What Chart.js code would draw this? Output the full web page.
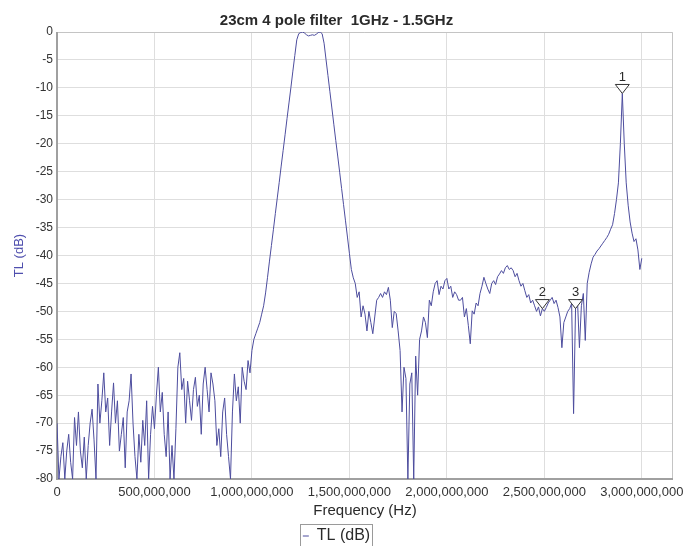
<!DOCTYPE html>
<html>
<head>
<meta charset="utf-8">
<script src="https://cdn.jsdelivr.net/npm/chart.js@4.4.0/dist/chart.umd.min.js"></script>
<style>
  html, body { margin: 0; padding: 0; background: #fff; }
  #wrap { width: 692px; height: 546px; }
</style>
</head>
<body>
<div id="wrap"><canvas id="tl" width="692" height="546"></canvas></div>
<script>
// sweep: 0 .. 3 GHz, 10 MHz per point
const sweepStartHz = 0;
const sweepStepHz  = 10e6;

// TL (dB), in sweep order
const tlLowBand = [   // 0 - 990 MHz
  -70, -80, -76, -73.5, -80, -75, -72, -77, -80, -69,
  -74, -68, -75, -78, -72.5, -80, -74, -70, -67.5, -73,
  -80, -63, -70, -66, -61, -68, -65.5, -74, -68, -62.8,
  -70, -66, -75, -72, -69, -78, -68, -66, -61.2, -70,
  -76, -80, -72, -77, -69.5, -74, -66, -80, -72, -67,
  -71, -65, -60, -68, -64.5, -72, -76, -68, -80, -74,
  -80, -71, -60, -57.4, -64, -62, -70, -62.5, -66, -69.5,
  -64, -61.8, -67, -65, -72, -63, -60, -64, -68, -61,
  -63, -66, -74, -71, -76, -68, -65.5, -72, -76, -80,
  -68, -61.2, -66, -63.5, -70, -60, -62.5, -64, -58.8, -61
];
const tlPassband = [  // 1000 - 1510 MHz
  -57, -55, -54, -53, -52, -50.5, -49, -46.7, -43.9, -41,
  -38.2, -35.4, -32.5, -29.7, -26.9, -24, -21.2, -18.4, -15.5, -12.7,
  -9.9, -7, -4.2, -1.4, -0.3, -0.1, 0, -0.2, -0.5, -0.7,
  -0.6, -0.5, -0.6, -0.4, -0.1, 0, -0.3, -2, -4.9, -7.8,
  -10.7, -13.6, -16.5, -19.4, -22.2, -25.1, -28, -30.9, -33.8, -36.7,
  -39.6, -42.5
];
const tlMidBand = [   // 1520 - 2390 MHz
  -44, -45, -47.5, -46.5, -51, -49, -50.5, -53.5,
  -50, -52, -54, -51, -48, -47.5, -46.8, -47.5, -46.5, -47,
  -45.7, -48, -52.9, -50, -50.4, -53.5, -57, -68, -60, -62,
  -80, -63, -61, -80, -58, -65, -55, -53.5, -51, -52,
  -54.7, -48, -49, -46.5, -45, -44.5, -47, -45.5, -46, -44.5,
  -44.1, -46, -45.5, -47.5, -46.5, -47, -48, -48, -47.5, -51,
  -49.5, -52.5, -55.8, -49.9, -50.5, -48.5, -49, -46.8, -45.5, -43.9,
  -45, -46, -46.8, -45, -44.5, -45.2, -43.8, -43.3, -42.7, -43.2,
  -42.2, -41.8, -42.5, -42.2, -42.7, -43.8, -43.2, -44.5, -45.5, -45
];
const tlHighBand = [  // 2400 - 3000 MHz
  -46.3, -47.5, -47, -48.5, -48, -49, -50, -49.2, -50.8, -49.5,
  -50, -49.3, -48.5, -48, -47.5, -48.6, -48, -49.3, -51, -56.5,
  -52, -51, -50, -49.5, -48.6, -68.3, -49.5, -48, -56.5, -49,
  -46.8, -55.2, -45, -43, -41.5, -40.3, -39.8, -39.2, -38.8, -38.3,
  -37.8, -37.3, -36.8, -36.2, -35.3, -34.5, -32.5, -30, -27, -20,
  -11, -20, -27, -31, -34, -36, -37.5, -37, -39, -42.5, -40.5
];

// markers
const markerLabels  = ['1', '2', '3'];
const markerFreqsHz = [2.90e9, 2.49e9, 2.66e9];
const markerValues  = [-11, -49.5, -49.5];

// axis ticks
const xTickValues = [0, 5e8, 1e9, 1.5e9, 2e9, 2.5e9, 3e9];
const yTickStep   = 5;

const FONT = '"Liberation Sans", Arial, sans-serif';
const C = {
  trace : '#4d4d9e',
  grid  : '#dedede',
  frame : '#c4c4c4',
  axis  : '#a0a0a0',
  text  : '#2a2a2a',
  yTitle: '#4f4fae'
};

const tlAll  = tlLowBand.concat(tlPassband, tlMidBand, tlHighBand);
const points = tlAll.map((v, i) => ({ x: sweepStartHz + i * sweepStepHz, y: v }));

// frame round the plot area
const plotFrame = {
  id: 'plotFrame',
  beforeDatasetsDraw(chart) {
    const a = chart.chartArea, ctx = chart.ctx;
    ctx.save();
    ctx.strokeStyle = C.frame;
    ctx.lineWidth = 1;
    ctx.beginPath();
    ctx.moveTo(a.left, a.top + 0.5);
    ctx.lineTo(a.right - 0.5, a.top + 0.5);
    ctx.lineTo(a.right - 0.5, a.bottom);
    ctx.stroke();
    ctx.strokeStyle = C.axis;
    ctx.lineWidth = 2;
    ctx.beginPath();
    ctx.moveTo(a.left, a.top);
    ctx.lineTo(a.left, a.bottom);
    ctx.lineTo(a.right, a.bottom);
    ctx.stroke();
    ctx.restore();
  }
};

// triangle markers with their number on top
const markerPlugin = {
  id: 'markers',
  afterDatasetsDraw(chart) {
    const xs = chart.scales.x, ys = chart.scales.y, ctx = chart.ctx;
    ctx.save();
    markerLabels.forEach((lab, i) => {
      const px = xs.getPixelForValue(markerFreqsHz[i]);
      const py = ys.getPixelForValue(markerValues[i]);
      ctx.beginPath();
      ctx.moveTo(px, py);
      ctx.lineTo(px - 7, py - 9);
      ctx.lineTo(px + 7, py - 9);
      ctx.closePath();
      ctx.fillStyle = '#fff';
      ctx.fill();
      ctx.strokeStyle = '#333';
      ctx.lineWidth = 1;
      ctx.stroke();
      ctx.fillStyle = C.text;
      ctx.font = '13px ' + FONT;
      ctx.textAlign = 'center';
      ctx.textBaseline = 'bottom';
      ctx.fillText(lab, px, py - 10);
    });
    ctx.restore();
  }
};

// box round the legend
const legendBox = {
  id: 'legendBox',
  afterDraw(chart) {
    const hb = chart.legend && chart.legend.legendHitBoxes && chart.legend.legendHitBoxes[0];
    if (!hb) return;
    const ctx = chart.ctx;
    ctx.save();
    ctx.strokeStyle = '#9a9a9a';
    ctx.lineWidth = 1;
    ctx.strokeRect(Math.round(hb.left) - 2.5, Math.round(hb.top) - 3.5, Math.round(hb.width) + 5, 40);
    ctx.restore();
  }
};

new Chart(document.getElementById('tl').getContext('2d'), {
  type: 'line',
  data: {
    datasets: [{
      label      : 'TL (dB)',
      data       : points,
      borderColor: C.trace,
      borderWidth: 1,
      pointRadius: 0,
      tension    : 0,
      fill       : false
    }]
  },
  options: {
    responsive: false,
    animation : false,
    devicePixelRatio: 1,
    layout: { padding: { left: 0, right: 19, top: 0, bottom: -8 } },
    plugins: {
      title: {
        display: true,
        text   : '23cm 4 pole filter  1GHz - 1.5GHz',
        color  : C.text,
        font   : { family: FONT, size: 15, weight: 'bold' },
        padding: { top: 12, bottom: 2 }
      },
      legend: {
        position: 'bottom',
        labels: {
          usePointStyle  : true,
          pointStyle     : 'line',
          pointStyleWidth: 6,
          color          : C.text,
          font           : { family: FONT, size: 16 },
          padding        : 1
        }
      },
      tooltip: { enabled: false }
    },
    scales: {
      x: {
        type: 'linear',
        min : 0,
        max : 3.16e9,
        afterBuildTicks(s) {
          s.ticks = xTickValues.map(v => ({ value: v }));
        },
        afterFit(s) { s.height = 48; },
        ticks: {
          autoSkip   : false,
          maxRotation: 0,
          color      : '#333',
          font       : { family: FONT, size: 13 },
          padding    : 6,
          callback   : v => Number(v).toLocaleString('en-US')
        },
        grid  : { color: C.grid, drawTicks: false },
        border: { display: false },
        title : {
          display: true,
          text   : 'Frequency (Hz)',
          color  : C.text,
          font   : { family: FONT, size: 15 },
          padding: { top: 4, bottom: 7 }
        }
      },
      y: {
        min: -80,
        max: 0,
        afterFit(s) { s.width = 57; },
        ticks: {
          stepSize: yTickStep,
          color   : '#333',
          font    : { family: FONT, size: 12 },
          padding : 4
        },
        grid  : { color: C.grid, drawTicks: false },
        border: { display: false },
        title : {
          display: true,
          text   : 'TL (dB)',
          color  : C.yTitle,
          font   : { family: FONT, size: 13 },
          padding: { top: 12, bottom: 0 }
        }
      }
    }
  },
  plugins: [plotFrame, markerPlugin, legendBox]
});
</script>
</body>
</html>
